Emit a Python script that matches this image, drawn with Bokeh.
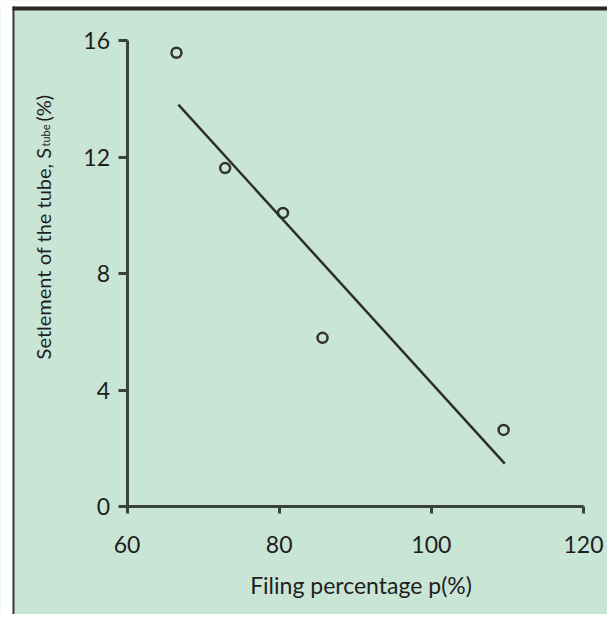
import math
from bokeh.plotting import figure
from bokeh.models import Range1d, FixedTicker, Label, BoxAnnotation
from bokeh.embed import file_html
from bokeh.resources import INLINE

# ---- data ----
filling_pct = [66.5, 72.9, 80.5, 85.7, 109.5]
settlement = [15.58, 11.62, 10.08, 5.79, 2.63]
fit_x = [66.75, 109.65]
fit_y = [13.80, 1.47]
x_ticks = [60, 80, 100, 120]
y_ticks = [0, 4, 8, 12, 16]

# ---- layout geometry (pixel coordinates of the picture) ----
W, H = 607, 614
PX60, PX120 = 126.5, 583.0        # pixel x of x=60 and x=120
PY0, PY16 = 506.0, 40.0           # pixel y of y=0 and y=16
PXU_X = (PX120 - PX60) / 60.0
PXU_Y = (PY0 - PY16) / 16.0


def dx(px):
    return 60 + (px - PX60) / PXU_X


def dy(py):
    return (PY0 - py) / PXU_Y


BG = "#c9e5d6"
INK = "#1e1e1e"
AX = "#3a423e"
FONT = "Lato"

p = figure(width=W, height=H, output_backend="svg", toolbar_location=None,
           x_range=Range1d(dx(0), dx(W)), y_range=Range1d(dy(H), dy(0)),
           min_border=0, min_border_left=0, min_border_right=0,
           min_border_top=0, min_border_bottom=0)
p.background_fill_color = BG
p.border_fill_color = BG
p.outline_line_color = None
p.xgrid.visible = False
p.ygrid.visible = False

for ax in (p.xaxis[0], p.yaxis[0]):
    ax.axis_line_color = AX
    ax.axis_line_width = 3
    ax.major_tick_line_color = AX
    ax.major_tick_line_width = 3
    ax.minor_tick_line_color = None
    ax.major_tick_in = 0
    ax.major_label_text_font = FONT
    ax.major_label_text_font_size = "23px"
    ax.major_label_text_color = INK

xa = p.xaxis[0]
xa.fixed_location = 0
xa.bounds = (60, 120)
xa.ticker = FixedTicker(ticks=x_ticks)
xa.major_tick_out = 7
xa.major_label_standoff = 22

ya = p.yaxis[0]
ya.fixed_location = 60
ya.bounds = (0, 16)
ya.ticker = FixedTicker(ticks=y_ticks)
ya.major_tick_out = 9
ya.major_label_standoff = 8

p.scatter(filling_pct, settlement, marker="circle", size=10, fill_color=None,
          line_color="#333333", line_width=2.5)
p.line(fit_x, fit_y, line_color="#2e2e2e", line_width=2.5)

# x axis title
p.add_layout(Label(x=dx(360.5), y=dy(584), text="Filing percentage p(%)",
                   text_align="center", text_baseline="alphabetic", text_font=FONT,
                   text_font_size="23px", text_color=INK))

# y axis title with subscript
p.add_layout(Label(x=dx(42), y=dy(147), text="Setlement of the tube, S", angle=math.pi / 2,
                   text_align="right", text_baseline="alphabetic", text_font=FONT,
                   text_font_size="20px", text_color=INK))
p.add_layout(Label(x=dx(45), y=dy(146), text="tube", angle=math.pi / 2,
                   text_align="left", text_baseline="alphabetic", text_font=FONT,
                   text_font_size="11px", text_color=INK))
p.add_layout(Label(x=dx(42), y=dy(121), text="(%)", angle=math.pi / 2,
                   text_align="left", text_baseline="alphabetic", text_font=FONT,
                   text_font_size="20px", text_color=INK))

# frame borders of the original picture
p.add_layout(BoxAnnotation(left=dx(-5), right=dx(12), bottom=dy(H + 5), top=dy(-5),
                           fill_color="white", fill_alpha=1, line_color=None))
p.add_layout(BoxAnnotation(left=dx(-5), right=dx(W + 5), bottom=dy(6), top=dy(-5),
                           fill_color="white", fill_alpha=1, line_color=None))
p.add_layout(BoxAnnotation(left=dx(12), right=dx(14), bottom=dy(H + 5), top=dy(6),
                           fill_color="#3a3a3a", fill_alpha=1, line_color=None))
p.add_layout(BoxAnnotation(left=dx(12), right=dx(W + 5), bottom=dy(10), top=dy(6),
                           fill_color="#2a2a2a", fill_alpha=1, line_color=None))

open("out.html", "w").write(file_html(p, INLINE))
